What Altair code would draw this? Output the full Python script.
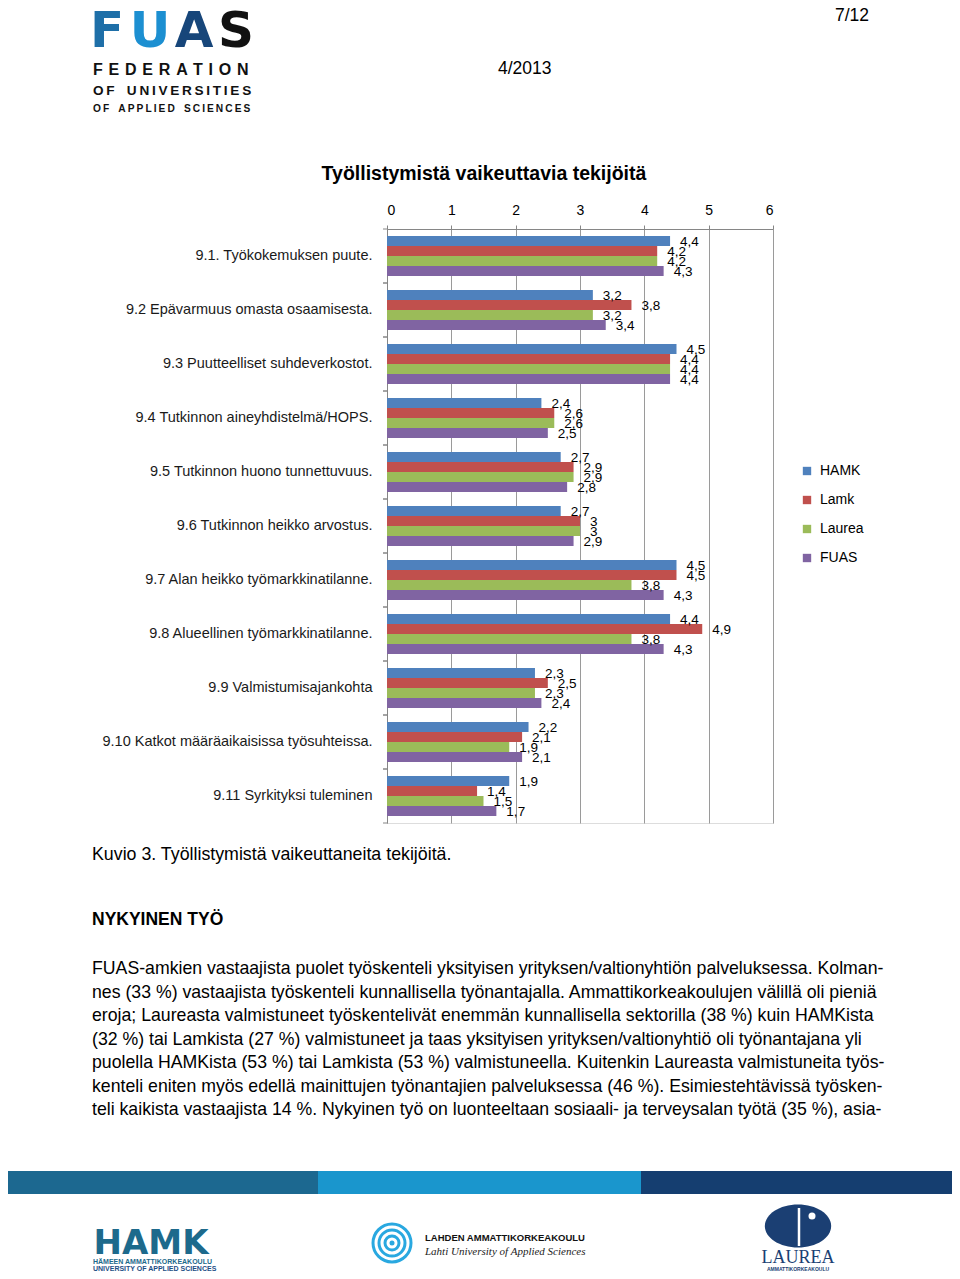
import altair as alt
import pandas as pd

FONT = "Liberation Sans"
BODY_FONT = "Liberation Sans"

categories = [
    "9.1. Työkokemuksen puute.",
    "9.2 Epävarmuus omasta osaamisesta.",
    "9.3 Puutteelliset suhdeverkostot.",
    "9.4 Tutkinnon aineyhdistelmä/HOPS.",
    "9.5 Tutkinnon huono tunnettuvuus.",
    "9.6 Tutkinnon heikko arvostus.",
    "9.7 Alan heikko työmarkkinatilanne.",
    "9.8 Alueellinen työmarkkinatilanne.",
    "9.9 Valmistumisajankohta",
    "9.10 Katkot määräaikaisissa työsuhteissa.",
    "9.11 Syrkityksi tuleminen",
]
series = ["HAMK", "Lamk", "Laurea", "FUAS"]
hamk = [4.4, 3.2, 4.5, 2.4, 2.7, 2.7, 4.5, 4.4, 2.3, 2.2, 1.9]
lamk = [4.2, 3.8, 4.4, 2.6, 2.9, 3.0, 4.5, 4.9, 2.5, 2.1, 1.4]
laurea = [4.2, 3.2, 4.4, 2.6, 2.9, 3.0, 3.8, 3.8, 2.3, 1.9, 1.5]
fuas = [4.3, 3.4, 4.4, 2.5, 2.8, 2.9, 4.3, 4.3, 2.4, 2.1, 1.7]
colors = ["#4F81BD", "#C0504D", "#9BBB59", "#8064A2"]
x_ticks = [0, 1, 2, 3, 4, 5, 6]

body_lines = [
    "FUAS-amkien vastaajista puolet työskenteli yksityisen yrityksen/valtionyhtiön palveluksessa. Kolman-",
    "nes (33 %) vastaajista työskenteli kunnallisella työnantajalla. Ammattikorkeakoulujen välillä oli pieniä",
    "eroja; Laureasta valmistuneet työskentelivät enemmän kunnallisella sektorilla (38 %) kuin HAMKista",
    "(32 %) tai Lamkista (27 %) valmistuneet ja taas yksityisen yrityksen/valtionyhtiö oli työnantajana yli",
    "puolella HAMKista (53 %) tai Lamkista (53 %) valmistuneella. Kuitenkin Laureasta valmistuneita työs-",
    "kenteli eniten myös edellä mainittujen  työnantajien palveluksessa (46 %). Esimiestehtävissä työsken-",
    "teli kaikista vastaajista 14 %. Nykyinen työ on luonteeltaan sosiaali- ja terveysalan työtä (35 %), asia-",
]
body_y = [969, 993, 1016, 1040, 1063, 1087, 1110]

rows = []
for s, vals in zip(series, [hamk, lamk, laurea, fuas]):
    for c, v in zip(categories, vals):
        lab = f"{v:.1f}".rstrip("0").rstrip(".").replace(".", ",")
        rows.append({"cat": c, "series": s, "value": v, "lab": lab})
df = pd.DataFrame(rows)
tickdf = pd.DataFrame({"cat": categories})

W, H = 386, 594
OX, OY = 387, 229  # page position of plot origin

y_enc = alt.Y(
    "cat:N", sort=categories,
    scale=alt.Scale(paddingInner=0, paddingOuter=0),
    axis=alt.Axis(title=None, ticks=False, domainColor="#868686", labelFontSize=14.5,
                  labelColor="#1a1a1a", labelPadding=15, labelLimit=400, labelFont=FONT),
)
yoff = alt.YOffset("series:N", sort=series, scale=alt.Scale(paddingInner=0, paddingOuter=0.7))
x_enc = alt.X(
    "value:Q", scale=alt.Scale(domain=[0, 6], nice=False),
    axis=alt.Axis(orient="top", values=x_ticks, title=None, grid=True, gridColor="#9a9a9a",
                  domainColor="#868686", tickColor="#868686", tickSize=4, labelFontSize=14,
                  labelPadding=8, format="d", labelFont=FONT, labelColor="#000"),
)

base = alt.Chart(df)
bars = base.mark_bar(strokeWidth=0).encode(
    x=x_enc, y=y_enc, yOffset=yoff,
    color=alt.Color("series:N", sort=series, scale=alt.Scale(domain=series, range=colors),
                    legend=alt.Legend(orient="none", legendX=413, legendY=235, title=None,
                                      symbolType="square", symbolSize=70, labelFontSize=14,
                                      labelFont=FONT, rowPadding=15, symbolStrokeWidth=0,
                                      labelColor="#000", labelOffset=6, padding=0)),
)
labels = base.mark_text(align="left", baseline="middle", dx=10, dy=1, fontSize=13.5,
                        font=FONT, color="#000").encode(
    x="value:Q", y=alt.Y("cat:N", sort=categories),
    yOffset=alt.YOffset("series:N", sort=series), text="lab:N")

ticks0 = alt.Chart(tickdf).mark_rule(color="#868686").encode(
    y=alt.Y("cat:N", sort=categories, bandPosition=0), x=alt.value(-4), x2=alt.value(0))
ticks1 = alt.Chart(tickdf).mark_rule(color="#868686").encode(
    y=alt.Y("cat:N", sort=categories, bandPosition=1), x=alt.value(-4), x2=alt.value(0))

one = pd.DataFrame({"k": [0]})


def txt(s, px, py, size, align="left", weight="normal", color="#000", font=FONT,
        style="normal", baseline="middle"):
    return alt.Chart(one).mark_text(
        text=s, align=align, baseline=baseline, fontSize=size, fontWeight=weight,
        color=color, font=font, fontStyle=style,
    ).encode(x=alt.value(px - OX), y=alt.value(py - OY))


def rect(px1, px2, py1, py2, color):
    return alt.Chart(one).mark_rect(color=color).encode(
        x=alt.value(px1 - OX), x2=alt.value(px2 - OX),
        y=alt.value(py1 - OY), y2=alt.value(py2 - OY))


def circ(px, py, r, color, filled=True, sw=0, shape="circle", size=None):
    return alt.Chart(one).mark_point(
        shape=shape, filled=filled, size=size if size else 4 * r * r, color=color,
        strokeWidth=sw, opacity=1,
    ).encode(x=alt.value(px - OX), y=alt.value(py - OY))


def spaced(s, gap="\u2009", word="\u2002"):
    return (gap + word + gap).join(gap.join(w) for w in s.split(" "))


deco = [
    txt("7/12", 869, 16, 17.5, align="right"),
    txt("4/2013", 498, 69, 17.5),
    txt("Työllistymistä vaikeuttavia tekijöitä", 484, 174, 19.5, align="center", weight="bold"),
    txt("Kuvio 3. Työllistymistä vaikeuttaneita tekijöitä.", 92, 855, 17.8),
    txt("NYKYINEN TYÖ", 92, 920, 17.5, weight="bold"),
]
for line, yy in zip(body_lines, body_y):
    deco.append(txt(line, 92, yy, 17.7, font=BODY_FONT))

# FUAS logo
LOGO_FONT = "DejaVu Sans"
deco += [
    txt("F", 107, 47, 50, align="center", weight="bold", color="#1E6FA8", baseline="alphabetic", font=LOGO_FONT),
    txt("U", 150, 47, 50, align="center", weight="bold", color="#1C8FD1", baseline="alphabetic", font=LOGO_FONT),
    txt("A", 194, 47, 50, align="center", weight="bold", color="#17467A", baseline="alphabetic", font=LOGO_FONT),
    txt("S", 236, 47, 50, align="center", weight="bold", color="#111111", baseline="alphabetic", font=LOGO_FONT),
    txt(spaced("FEDERATION", gap=" \u200A"), 93, 75, 16, weight="bold", color="#111", baseline="alphabetic"),
    txt(spaced("OF UNIVERSITIES"), 93, 95, 13.6, weight="bold", color="#111", baseline="alphabetic"),
    txt(spaced("OF APPLIED SCIENCES"), 93, 112, 10.2, weight="bold", color="#111", baseline="alphabetic"),
]

# footer band
deco += [
    rect(0, 318, 1171, 1194, "#1C6890"),
    rect(318, 641, 1171, 1194, "#1A96CD"),
    rect(641, 960, 1171, 1194, "#153E70"),
]

# footer logos
ELLIPSE = "M -1 0 A 1 0.65 0 1 0 1 0 A 1 0.65 0 1 0 -1 0 Z"
deco += [
    txt("HAMK", 151, 1254, 34, align="center", weight="bold", color="#1D6A8C",
        baseline="alphabetic", font=LOGO_FONT),
    txt("HÄMEEN AMMATTIKORKEAKOULU", 93, 1262, 7, weight="bold", color="#1D6A8C"),
    txt("UNIVERSITY OF APPLIED SCIENCES", 93, 1269, 7, weight="bold", color="#1D4F86"),
    circ(392, 1243, 19, "#29A8E0", filled=False, sw=3),
    circ(392, 1243, 13, "#29A8E0", filled=False, sw=3),
    circ(392, 1243, 7, "#29A8E0", filled=False, sw=3),
    circ(392, 1243, 2.5, "#29A8E0"),
    txt("LAHDEN AMMATTIKORKEAKOULU", 425, 1238, 9.5, weight="bold", color="#111"),
    txt("Lahti University of Applied Sciences", 425, 1252, 11, style="italic",
        color="#222", font="Liberation Serif"),
    circ(798, 1226, 0, "#1B3F73", shape=ELLIPSE, size=4400),
    alt.Chart(one).mark_rule(color="#FFFFFF", strokeWidth=2.5).encode(
        x=alt.value(799 - OX), y=alt.value(1208 - OY), y2=alt.value(1246 - OY)),
    circ(812, 1216, 3.5, "#FFFFFF"),
    txt("LAUREA", 798, 1258, 18, align="center", color="#1B3F73", font="Liberation Serif"),
    txt("AMMATTIKORKEAKOULU", 798, 1269, 5, align="center", weight="bold", color="#1B3F73"),
    txt("UNIVERSITY OF APPLIED SCIENCES", 798, 1275, 4.5, align="center", color="#1B3F73"),
]

chart = alt.layer(bars, labels, ticks0, ticks1, *deco).properties(
    width=W, height=H,
    autosize="none",
    padding={"left": OX - 8, "top": OY - 8, "right": 944 - (OX - 8) - W,
             "bottom": 1263 - (OY - 8) - H},
).configure_view(strokeWidth=0).configure(background="white")

chart.save("out.html", embed_options={"renderer": "svg", "actions": False})
